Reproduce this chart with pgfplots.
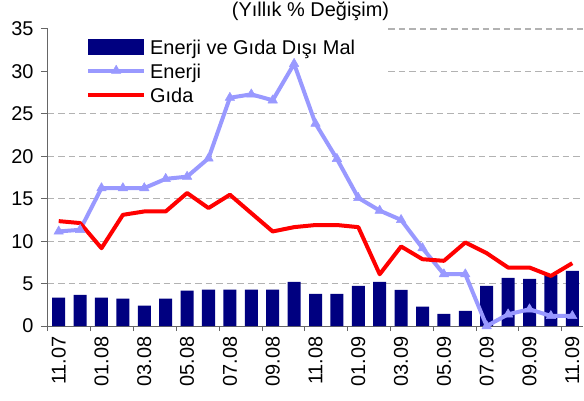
\documentclass[border=0pt]{standalone}
\usepackage{pgfplots}
\pgfplotsset{compat=1.18}
\usepackage{fontspec}
\setmainfont{Liberation Sans}
\definecolor{barblue}{HTML}{000080}
\definecolor{enblue}{HTML}{9999FF}
\definecolor{gidared}{HTML}{FF0000}
\newcommand{\cf}{\fontsize{20}{24}\selectfont}
\pgfplotsset{
  barlegend/.style={legend image code/.code={\fill[barblue] (0bp,-7.8bp) rectangle (56bp,7.8bp);}},
  trilegend/.style={legend image code/.code={\draw[mark repeat=2, mark phase=2, ##1] plot coordinates {(0bp,0bp) (28bp,0bp) (56bp,0bp)};}},
  linelegend/.style={legend image code/.code={\draw[##1] (0bp,0bp) -- (56bp,0bp);}},
}
\tikzset{gl/.style={black!30, line width=1.2bp, dash pattern=on 6.5bp off 4bp}}
\begin{document}
\begin{tikzpicture}
\begin{axis}[
  scale only axis,
  width=535bp, height=297bp,
  xmin=-0.5, xmax=24.5,
  ymin=0, ymax=35,
  axis x line*=bottom, axis y line*=left,
  axis line style={black!60, line width=1bp},
  ytick={0,5,...,35},
  xtick={0,2,...,24},
  xticklabels={11.07,01.08,03.08,05.08,07.08,09.08,11.08,01.09,03.09,05.09,07.09,09.09,11.09},
  minor xtick={-0.5,1.5,...,23.5},
  major x tick style={draw=none},
  tick align=outside,
  major tick length=7bp, minor tick length=5bp,
  tick style={black!60, line width=1bp},
  xticklabel style={rotate=90, anchor=east, font=\cf},
  yticklabel style={font=\cf, xshift=-4bp},
  /pgf/number format/assume math mode=true,
  title={(Yıllık \% Değişim)},
  title style={at={(0.5,1)}, anchor=base, yshift=6.3bp, xshift=-5bp, font=\cf},
  legend style={at={(0,1)}, anchor=north west, fill=none, draw=none,
    inner xsep=38bp, inner ysep=5bp, font=\cf, row sep=-1bp, column sep=4bp,
    nodes={inner sep=0pt, text height=20bp, text depth=5bp}},
  legend cell align=left,
]
\coordinate (SW) at (rel axis cs:0,0);
\draw[gl] (axis cs:-0.5,5) -- (axis cs:24.5,5);
\draw[gl] (axis cs:-0.5,10) -- (axis cs:24.5,10);
\draw[gl] (axis cs:-0.5,15) -- (axis cs:24.5,15);
\draw[gl] (axis cs:-0.5,20) -- (axis cs:24.5,20);
\draw[gl] (axis cs:-0.5,25) -- (axis cs:24.5,25);
\draw[gl] (axis cs:15.4,30) -- (axis cs:24.5,30);
\draw[gl] (axis cs:15.4,35) -- (axis cs:24.5,35);
\addplot[ybar, bar width=13bp, bar shift=0pt, fill=barblue, draw=none, barlegend]
coordinates {
(0,3.35) (1,3.66) (2,3.35) (3,3.23) (4,2.40) (5,3.23) (6,4.17) (7,4.29) (8,4.29) (9,4.29)
(10,4.29) (11,5.20) (12,3.78) (13,3.78) (14,4.72) (15,5.20) (16,4.25) (17,2.28) (18,1.42) (19,1.77)
(20,4.72) (21,5.67) (22,5.55) (23,6.02) (24,6.50)};
\addlegendentry{Enerji ve Gıda Dışı Mal}
\addplot[enblue, line width=4bp, line join=round, mark=triangle*, mark size=5.5bp,
  mark options={line width=0.5bp, fill=enblue, draw=enblue}, trilegend]
coordinates {
(0,11.14) (1,11.34) (2,16.25) (3,16.25) (4,16.25) (5,17.34) (6,17.60) (7,19.76) (8,26.90) (9,27.30)
(10,26.60) (11,30.90) (12,23.85) (13,19.70) (14,15.10) (15,13.60) (16,12.50) (17,9.17) (18,6.10) (19,6.10)
(20,0.00) (21,1.38) (22,1.97) (23,1.18) (24,1.18)};
\addlegendentry{Enerji}
\addplot[gidared, line width=4bp, line join=round, linelegend]
coordinates {
(0,12.36) (1,12.13) (2,9.17) (3,13.10) (4,13.50) (5,13.50) (6,15.67) (7,13.90) (8,15.47) (9,13.30)
(10,11.14) (11,11.65) (12,11.90) (13,11.90) (14,11.65) (15,6.10) (16,9.37) (17,7.87) (18,7.68) (19,9.84)
(20,8.58) (21,6.89) (22,6.89) (23,5.90) (24,7.40)};
\addlegendentry{Gıda}
\end{axis}
\pgfresetboundingbox
\path (SW) ++(-48bp,-75bp) rectangle ++(584bp,401bp);
\end{tikzpicture}
\end{document}
